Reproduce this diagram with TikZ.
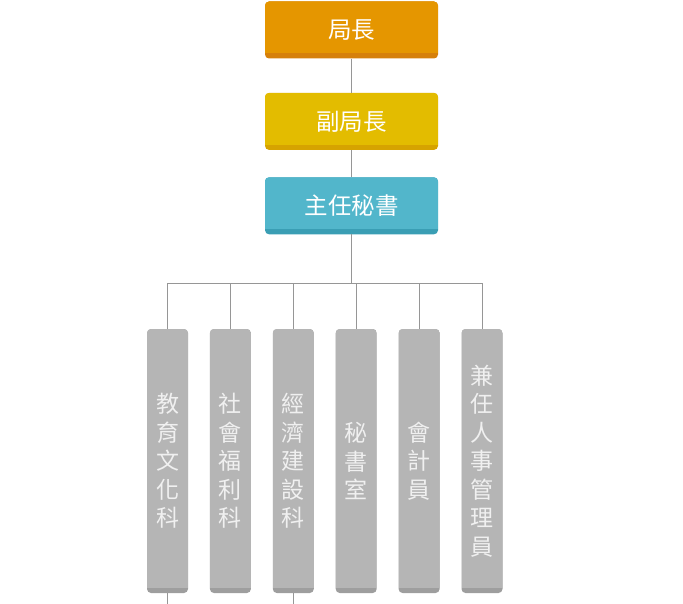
\documentclass[tikz,border=0pt]{standalone}
\usepackage{fontspec}
\newfontfamily\cjk{Noto Sans CJK TC}
\usepackage{xcolor}
\usepackage{tikz}
\usetikzlibrary{positioning, calc}
\definecolor{chieforange}{RGB}{229,150,0}
\definecolor{chiefshade}{RGB}{214,128,10}
\definecolor{deputyyellow}{RGB}{227,188,0}
\definecolor{deputyshade}{RGB}{214,163,0}
\definecolor{secteal}{RGB}{82,182,203}
\definecolor{secshade}{RGB}{58,158,180}
\definecolor{unitgray}{RGB}{181,181,181}
\definecolor{unitshade}{RGB}{158,158,158}
\definecolor{linegray}{RGB}{150,150,150}

\begin{document}
\begin{tikzpicture}[
    card/.style 2 args={rectangle, rounded corners=4pt, fill=#2, inner sep=0pt, text=white,
        path picture={\fill[#1, sharp corners] (path picture bounding box.north west) rectangle ([yshift=5pt]path picture bounding box.south east);}},
    head/.style 2 args={card={#1}{#2}, minimum width=173pt, minimum height=57pt, font=\cjk\fontsize{23.5}{26}\selectfont},
    unit/.style={card={unitgray}{unitshade}, minimum width=41pt, minimum height=264pt, align=center, text=white!94!black, font=\cjk\fontsize{23}{28.5}\selectfont},
    conn/.style={draw=linegray, line width=0.8pt}
]
\useasboundingbox (0,0) rectangle (683pt,-604pt);

\node[head={chieforange}{chiefshade}] (chief) at (351.5pt,-30pt) {局長};
\node[head={deputyyellow}{deputyshade}, below=34pt of chief] (deputy) {副局長};
\node[head={secteal}{secshade}, below=27pt of deputy] (sec) {主任秘書};

\node[unit] (edu) at (167.5pt,-461pt) {教\\育\\文\\化\\科};
\node[unit, right=21.5pt of edu] (welfare) {社\\會\\福\\利\\科};
\node[unit, right=21.5pt of welfare] (econ) {經\\濟\\建\\設\\科};
\node[unit, right=21.5pt of econ] (secroom) {秘\\書\\室};
\node[unit, right=21.5pt of secroom] (acct) {會\\計\\員};
\node[unit, right=21.5pt of acct] (hr) {兼\\任\\人\\事\\管\\理\\員};

\coordinate (bus) at ($(sec.south)+(0,-49pt)$);
\coordinate (edu end) at ($(edu.south)+(0,-12pt)$);
\coordinate (econ end) at ($(econ.south)+(0,-12pt)$);

\draw[conn] (chief) -- (deputy);
\draw[conn] (deputy) -- (sec);
\draw[conn] (sec.south) -- (bus);
\foreach \u in {edu, welfare, econ, secroom, acct, hr}
    \draw[conn] (\u.north) |- (bus);
\draw[conn] (edu.south) -- (edu end);
\draw[conn] (econ.south) -- (econ end);
\end{tikzpicture}
\end{document}
